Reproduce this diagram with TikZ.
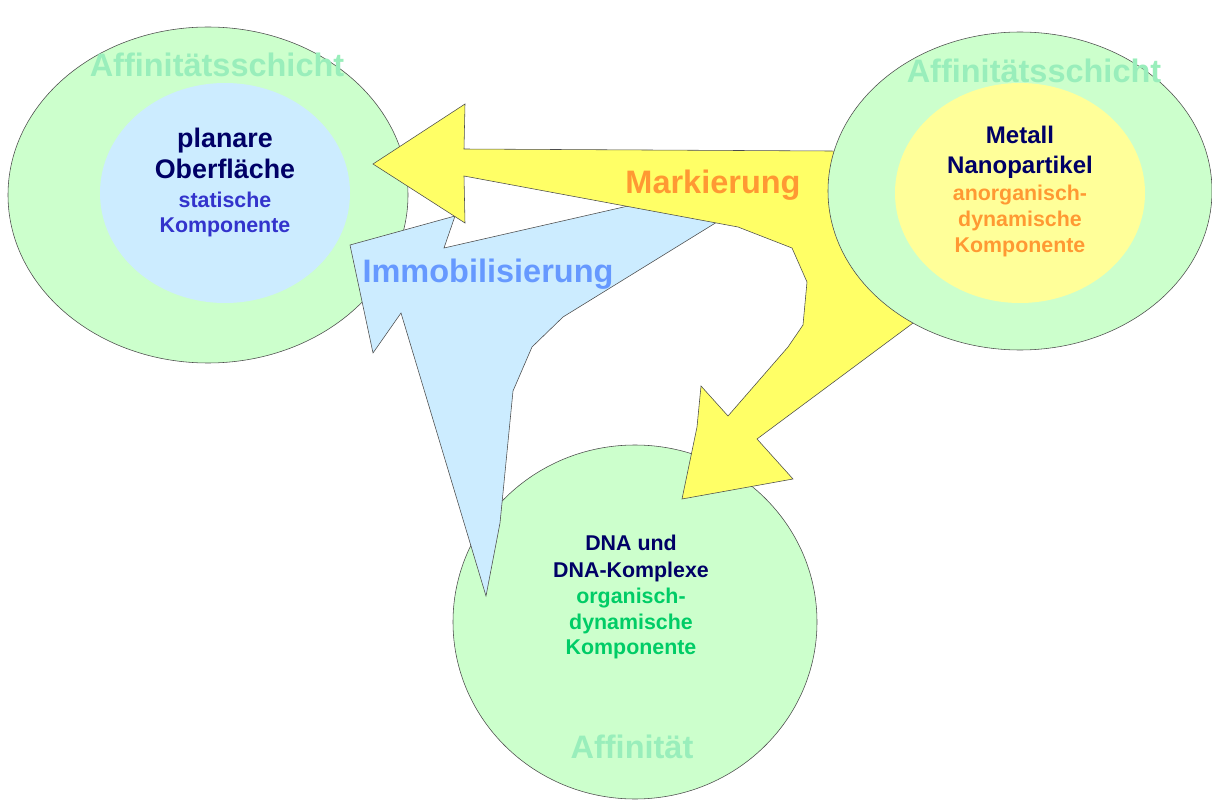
\documentclass[tikz,border=0pt]{standalone}
\usepackage{fontspec}
\setmainfont{Liberation Sans}
\definecolor{layergreen}{HTML}{CCFFCC}
\definecolor{surfaceblue}{HTML}{CCECFF}
\definecolor{markyellow}{HTML}{FFFF66}
\definecolor{coreyellow}{HTML}{FFFF99}
\definecolor{fadegreen}{HTML}{99EEBB}
\definecolor{navy}{HTML}{000066}
\definecolor{staticblue}{HTML}{3333CC}
\definecolor{dynorange}{HTML}{FF9933}
\definecolor{dyngreen}{HTML}{00CC66}
\definecolor{immoblue}{HTML}{6699FF}
\tikzset{
  layer/.style={draw=black!70, line width=0.4pt, fill=layergreen},
  bigarrow/.style={draw=black!70, line width=0.4pt, line join=miter},
  bigword/.style={anchor=base, inner sep=0pt, text=fadegreen,
    font=\bfseries\fontsize{23.1}{26}\selectfont},
  title/.style={anchor=north, inner sep=0pt, align=center, text=navy}
}
\begin{document}
\begin{tikzpicture}[x=0.025cm, y=-0.025cm]
  \useasboundingbox (0,0) rectangle (1212,801);
  \draw[layer] (208,195) ellipse [x radius=200, y radius=168];
  \fill[surfaceblue] (225,193) ellipse [x radius=125, y radius=110];
  \draw[layer] (635,622) ellipse [x radius=182, y radius=177];
  \draw[bigarrow, fill=surfaceblue]
    (350,245) -- (455,216) -- (444,248) -- (650,201) -- (730,214)
    -- (563,317) -- (532,347) -- (513,391) -- (502,503) -- (500,523)
    -- (486,596) -- (401,313) -- (373,353) -- cycle;
  \draw[bigarrow, fill=markyellow]
    (373,164) -- (465,104) -- (464,149) -- (830,151) -- (900,152)
    -- (960,230) -- (940,303) -- (757,439) -- (793,479) -- (682,499)
    -- (697,427) -- (701,386) -- (728,416) -- (788,347) -- (803,325)
    -- (807,282) -- (792,248) -- (738,227) -- (464,176) -- (465,223)
    -- cycle;
  \draw[layer] (1020,191) ellipse [x radius=192, y radius=159];
  \fill[coreyellow] (1020,193) ellipse [x radius=125, y radius=110];

  \node (surfaceLayer) [bigword] at (217,77) {Affinitätsschicht};
  \node (metalLayer) [bigword] at (1034,83) {Affinitätsschicht};
  \node (dnaLayer) [bigword] at (632,758) {Affinität};
  \node (marking) [bigword, text=dynorange] at (713,194) {Markierung};
  \node (immob) [bigword, text=immoblue] at (488,282) {Immobilisierung};

  \node (surface) [title, font=\bfseries\fontsize{19.1}{22}\selectfont]
    at (225,128) {planare\\Oberfläche};
  \node (surfaceSub) [title, text=staticblue, font=\bfseries\fontsize{15.2}{17.8}\selectfont]
    at (225,192) {statische\\Komponente};
  \node (metal) [title, font=\bfseries\fontsize{17.1}{21.3}\selectfont]
    at (1020,126) {Metall\\Nanopartikel};
  \node (metalSub) [title, text=dynorange, font=\bfseries\fontsize{15.2}{18.5}\selectfont]
    at (1020,185) {anorganisch-\\dynamische\\Komponente};
  \node (dna) [title, font=\bfseries\fontsize{15.2}{19.2}\selectfont]
    at (631,535) {DNA und\\DNA-Komplexe};
  \node (dnaSub) [title, text=dyngreen, font=\bfseries\fontsize{15.2}{18.1}\selectfont]
    at (631,588) {organisch-\\dynamische\\Komponente};
\end{tikzpicture}
\end{document}
